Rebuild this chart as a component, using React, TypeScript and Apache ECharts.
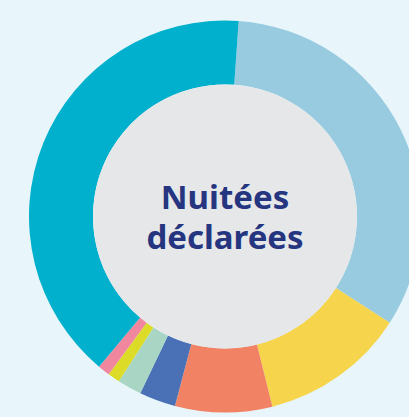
import React, { useEffect, useRef } from "react";
import * as echarts from "echarts";

const categories = [
  "Meublés de tourisme",
  "Hôtels",
  "Campings",
  "Chambres d'hôtes",
  "Résidences de tourisme",
  "Villages vacances",
  "Autres",
  "Plateformes en ligne",
];
const values = [33, 12, 8, 3, 2, 1, 1, 40];
const colors = [
  "#98cbe0",
  "#f6d54c",
  "#f28264",
  "#4a70b5",
  "#a8d5c4",
  "#dcdc28",
  "#f0879e",
  "#00b0cc",
];
const centerLabel = "Nuitées\ndéclarées";

export default function App() {
  const ref = useRef<HTMLDivElement>(null);
  useEffect(() => {
    document.body.style.margin = "0";
    const chart = echarts.init(ref.current!, null, { renderer: "svg" });
    chart.setOption({
      animation: false,
      backgroundColor: "#e8f5fa",
      series: [
        {
          type: "pie",
          center: [225, 216.5],
          radius: [132, 196],
          startAngle: 86,
          clockwise: true,
          silent: true,
          label: { show: false },
          labelLine: { show: false },
          itemStyle: { borderWidth: 0 },
          data: categories.map((name, i) => ({
            name,
            value: values[i],
            itemStyle: { color: colors[i] },
          })),
        },
        {
          type: "pie",
          center: [225, 216.5],
          radius: [0, 132],
          silent: true,
          itemStyle: { color: "#e6e7e9", borderWidth: 0 },
          label: {
            show: true,
            position: "center",
            formatter: centerLabel,
            color: "#253580",
            fontFamily: "Noto Sans",
            fontWeight: "bold",
            fontSize: 33,
            lineHeight: 40,
          },
          labelLine: { show: false },
          data: [{ name: "centre", value: 1 }],
        },
      ],
    });
    return () => chart.dispose();
  }, []);
  return (
    <div
      ref={ref}
      style={{ position: "fixed", left: 0, top: 0, width: 409, height: 417 }}
    />
  );
}
